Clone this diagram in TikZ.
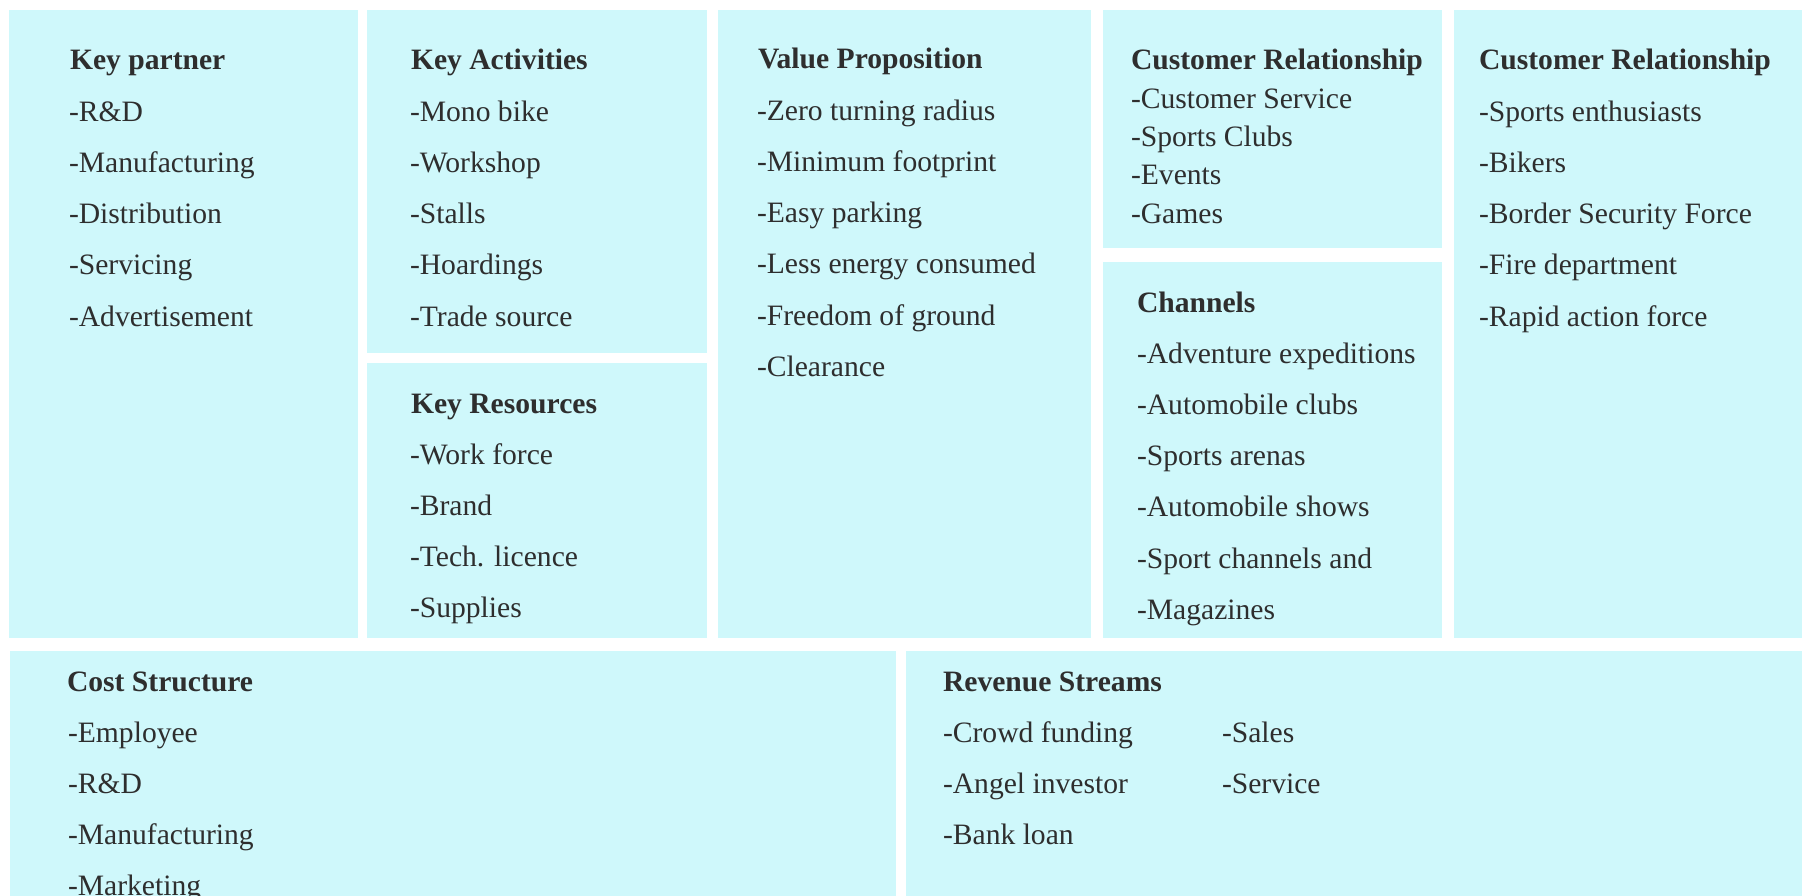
\documentclass[tikz,border=0pt]{standalone}
\usepackage{fontspec}
\setmainfont{Liberation Serif}
\definecolor{boxfill}{HTML}{CFF8FB}
\definecolor{txt}{HTML}{2E2E2E}
\tikzset{
  cell/.style={fill=boxfill, draw=none},
  item/.style={anchor=base west, inner sep=0pt, outer sep=0pt, text=txt,
    font=\fontsize{29.6}{35}\selectfont},
  ttl/.style={item, font=\fontsize{29.6}{35}\selectfont\bfseries}
}
\newcommand\cellitems[5]{%
  \foreach \t [count=\i from 1] in {#4} {
    \node[item] (#5-\i) at (#1,{#2+\i*#3}) {\t};
  }%
}
\begin{document}
\begin{tikzpicture}[x=1pt,y=-1pt]
\useasboundingbox (0,0) rectangle (1802,896);
\clip (0,0) rectangle (1802,896);
% boxes
\fill[cell] (9,10) rectangle (358,638);
\fill[cell] (367,10) rectangle (707,353);
\fill[cell] (367,363) rectangle (707,638);
\fill[cell] (718,10) rectangle (1091,638);
\fill[cell] (1103,10) rectangle (1442,248);
\fill[cell] (1103,262) rectangle (1442,638);
\fill[cell] (1454,10) rectangle (1802,638);
\fill[cell] (10,651) rectangle (896,896);
\fill[cell] (906,651) rectangle (1802,896);
% Key partner
\node[ttl] (kpT) at (70,70) {Key partner};
\cellitems{69}{70}{51.2}{-R\&D,-Manufacturing,-Distribution,-Servicing,-Advertisement}{kp}
% Key activities
\node[ttl] (kaT) at (411,70) {Key Activities};
\cellitems{410}{70}{51.2}{-Mono bike,-Workshop,-Stalls,-Hoardings,-Trade source}{ka}
% Key resources
\node[ttl] (krT) at (411,413) {Key Resources};
\cellitems{410}{413}{51.2}{-Work force,-Brand,-Tech. licence,-Supplies}{kr}
% Value proposition
\node[ttl] (vpT) at (758,69) {Value Proposition};
\cellitems{757}{69}{51.2}{-Zero turning radius,-Minimum footprint,-Easy parking,-Less energy consumed,-Freedom of ground,-Clearance}{vp}
% Customer relationship
\node[ttl] (crT) at (1131,70) {Customer Relationship};
\cellitems{1131}{70}{38.3}{-Customer Service,-Sports Clubs,-Events,-Games}{cr}
% Channels
\node[ttl] (chT) at (1137,312) {Channels};
\cellitems{1137}{312}{51.2}{-Adventure expeditions,-Automobile clubs,-Sports arenas,-Automobile shows,-Sport channels and,-Magazines}{ch}
% Customer segments (labelled as in the picture)
\node[ttl] (csT) at (1479,70) {Customer Relationship};
\cellitems{1479}{70}{51.2}{-Sports enthusiasts,-Bikers,-Border Security Force,-Fire department,-Rapid action force}{cs}
% Cost structure
\node[ttl] (coT) at (67,691) {Cost Structure};
\cellitems{68}{691}{51.2}{-Employee,-R\&D,-Manufacturing,-Marketing}{co}
% Revenue streams
\node[ttl] (rvT) at (943,691) {Revenue Streams};
\cellitems{943}{691}{51.2}{-Crowd funding,-Angel investor,-Bank loan}{rv}
\cellitems{1222}{691}{51.2}{-Sales,-Service}{rw}
\end{tikzpicture}
\end{document}
